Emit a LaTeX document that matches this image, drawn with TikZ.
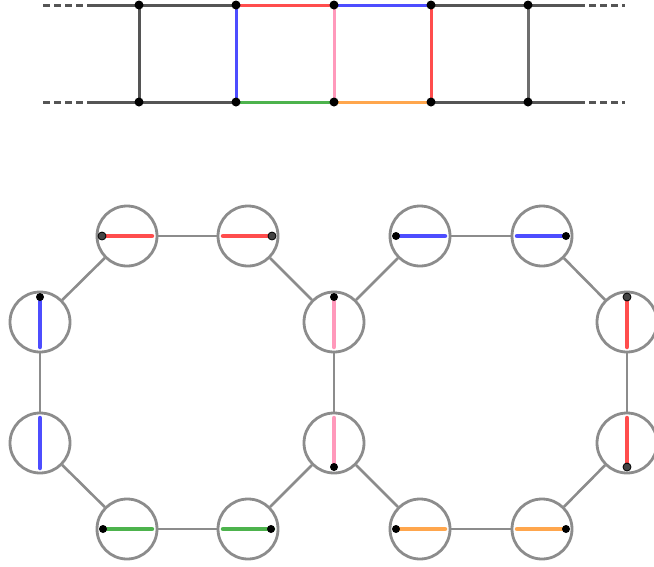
\documentclass[tikz,border=0pt]{standalone}
\usetikzlibrary{calc}
\definecolor{cred}{HTML}{FF4D4D}
\definecolor{cblue}{HTML}{4D4DFF}
\definecolor{cgreen}{HTML}{4DB34D}
\definecolor{corange}{HTML}{FFA64D}
\definecolor{cpink}{HTML}{FF99BB}
\definecolor{cdark}{HTML}{555555}
\definecolor{cgray}{HTML}{8C8C8C}
\definecolor{cdot}{HTML}{444444}
\tikzset{
  vtx/.style={circle,fill=black,inner sep=0pt,minimum size=9pt},
  rail/.style={line width=3pt},
  railend/.style={line width=3pt,cdark,dash pattern=on 6.5pt off 4.5pt},
  ring/.style={circle,draw=cgray,line width=2.8pt,minimum size=60pt,inner sep=0pt},
  link/.style={cgray,line width=2.6pt},
  seg/.style={line width=4.5pt,line cap=round},
  bdot/.style={fill=black},
  gdot/.style={fill=cdot,draw=black,line width=0.8pt},
}
\begin{document}
\begin{tikzpicture}[x=1pt,y=-1pt]
\useasboundingbox (0,0) rectangle (654,566);
% ---- ladder ----
\coordinate (tl) at (43,5); \coordinate (tm) at (90,5);
\coordinate (tr) at (625,5); \coordinate (tn) at (578,5);
\coordinate (bl) at (43,102); \coordinate (bm) at (90,102);
\coordinate (br) at (625,102); \coordinate (bn) at (578,102);
\foreach \i/\x in {1/139,2/236,3/334,4/431,5/528}{
  \coordinate (t\i) at (\x,5);
  \coordinate (b\i) at (\x,102);
}
\draw[railend] (tl) -- (tm);
\draw[railend] (bl) -- (bm);
\draw[railend] (tn) -- (tr);
\draw[railend] (bn) -- (br);
\draw[rail,cdark] (tm) -- (t1) -- (t2);
\draw[rail,cdark] (bm) -- (b1) -- (b2);
\draw[rail,cdark] (t4) -- (t5) -- (tn);
\draw[rail,cdark] (b4) -- (b5) -- (bn);
\draw[rail,cred] (t2) -- (t3);
\draw[rail,cblue] (t3) -- (t4);
\draw[rail,cgreen] (b2) -- (b3);
\draw[rail,corange] (b3) -- (b4);
\draw[rail,cdark] (t1) -- (b1);
\draw[rail,cblue] (t2) -- (b2);
\draw[rail,cpink] (t3) -- (b3);
\draw[rail,cred] (t4) -- (b4);
\draw[rail,cdark!85] (t5) -- (b5);
\foreach \i in {1,...,5}{
  \node[vtx] (vt\i) at (t\i) {};
  \node[vtx] (vb\i) at (b\i) {};
}
% ---- octagons ----
\node[ring] (a1) at (127,236) {};
\node[ring] (a2) at (248,236) {};
\node[ring] (m1) at (334,322) {};
\node[ring] (m2) at (334,443) {};
\node[ring] (a5) at (248,529) {};
\node[ring] (a6) at (127,529) {};
\node[ring] (a7) at (40,443) {};
\node[ring] (a8) at (40,322) {};
\node[ring] (c1) at (420,236) {};
\node[ring] (c2) at (542,236) {};
\node[ring] (c3) at (627,322) {};
\node[ring] (c4) at (627,443) {};
\node[ring] (c5) at (542,529) {};
\node[ring] (c6) at (420,529) {};
\draw[link] (a1) -- (a2);
\draw[link] (a2) -- (m1);
\draw[link] (m1) -- (m2);
\draw[link] (m2) -- (a5);
\draw[link] (a5) -- (a6);
\draw[link] (a6) -- (a7);
\draw[link] (a7) -- (a8);
\draw[link] (a8) -- (a1);
\draw[link] (m1) -- (c1);
\draw[link] (c1) -- (c2);
\draw[link] (c2) -- (c3);
\draw[link] (c3) -- (c4);
\draw[link] (c4) -- (c5);
\draw[link] (c5) -- (c6);
\draw[link] (c6) -- (m2);
% segments inside rings
\newcommand{\hseg}[2]{\draw[seg,#2] ([xshift=-25pt]#1.center) -- ([xshift=25pt]#1.center);}
\newcommand{\vseg}[2]{\draw[seg,#2] ([yshift=25pt]#1.center) -- ([yshift=-25pt]#1.center);}
\hseg{a1}{cred}  \fill[gdot] ([xshift=-25pt]a1.center) circle (4pt);
\hseg{a2}{cred}  \fill[gdot] ([xshift=24pt]a2.center) circle (4pt);
\vseg{a8}{cblue} \fill[bdot] ([yshift=25pt]a8.center) circle (4pt);
\vseg{a7}{cblue}
\hseg{a6}{cgreen} \fill[bdot] ([xshift=-24pt]a6.center) circle (4pt);
\hseg{a5}{cgreen} \fill[bdot] ([xshift=23pt]a5.center) circle (4pt);
\vseg{m1}{cpink} \fill[bdot] ([yshift=25pt]m1.center) circle (4pt);
\vseg{m2}{cpink} \fill[bdot] ([yshift=-24pt]m2.center) circle (4pt);
\hseg{c1}{cblue} \fill[bdot] ([xshift=-24pt]c1.center) circle (4pt);
\hseg{c2}{cblue} \fill[bdot] ([xshift=24pt]c2.center) circle (4pt);
\vseg{c3}{cred}  \fill[gdot] ([yshift=25pt]c3.center) circle (4pt);
\vseg{c4}{cred}  \fill[gdot] ([yshift=-24pt]c4.center) circle (4pt);
\hseg{c6}{corange} \fill[bdot] ([xshift=-24pt]c6.center) circle (4pt);
\hseg{c5}{corange} \fill[bdot] ([xshift=24pt]c5.center) circle (4pt);
\end{tikzpicture}
\end{document}
